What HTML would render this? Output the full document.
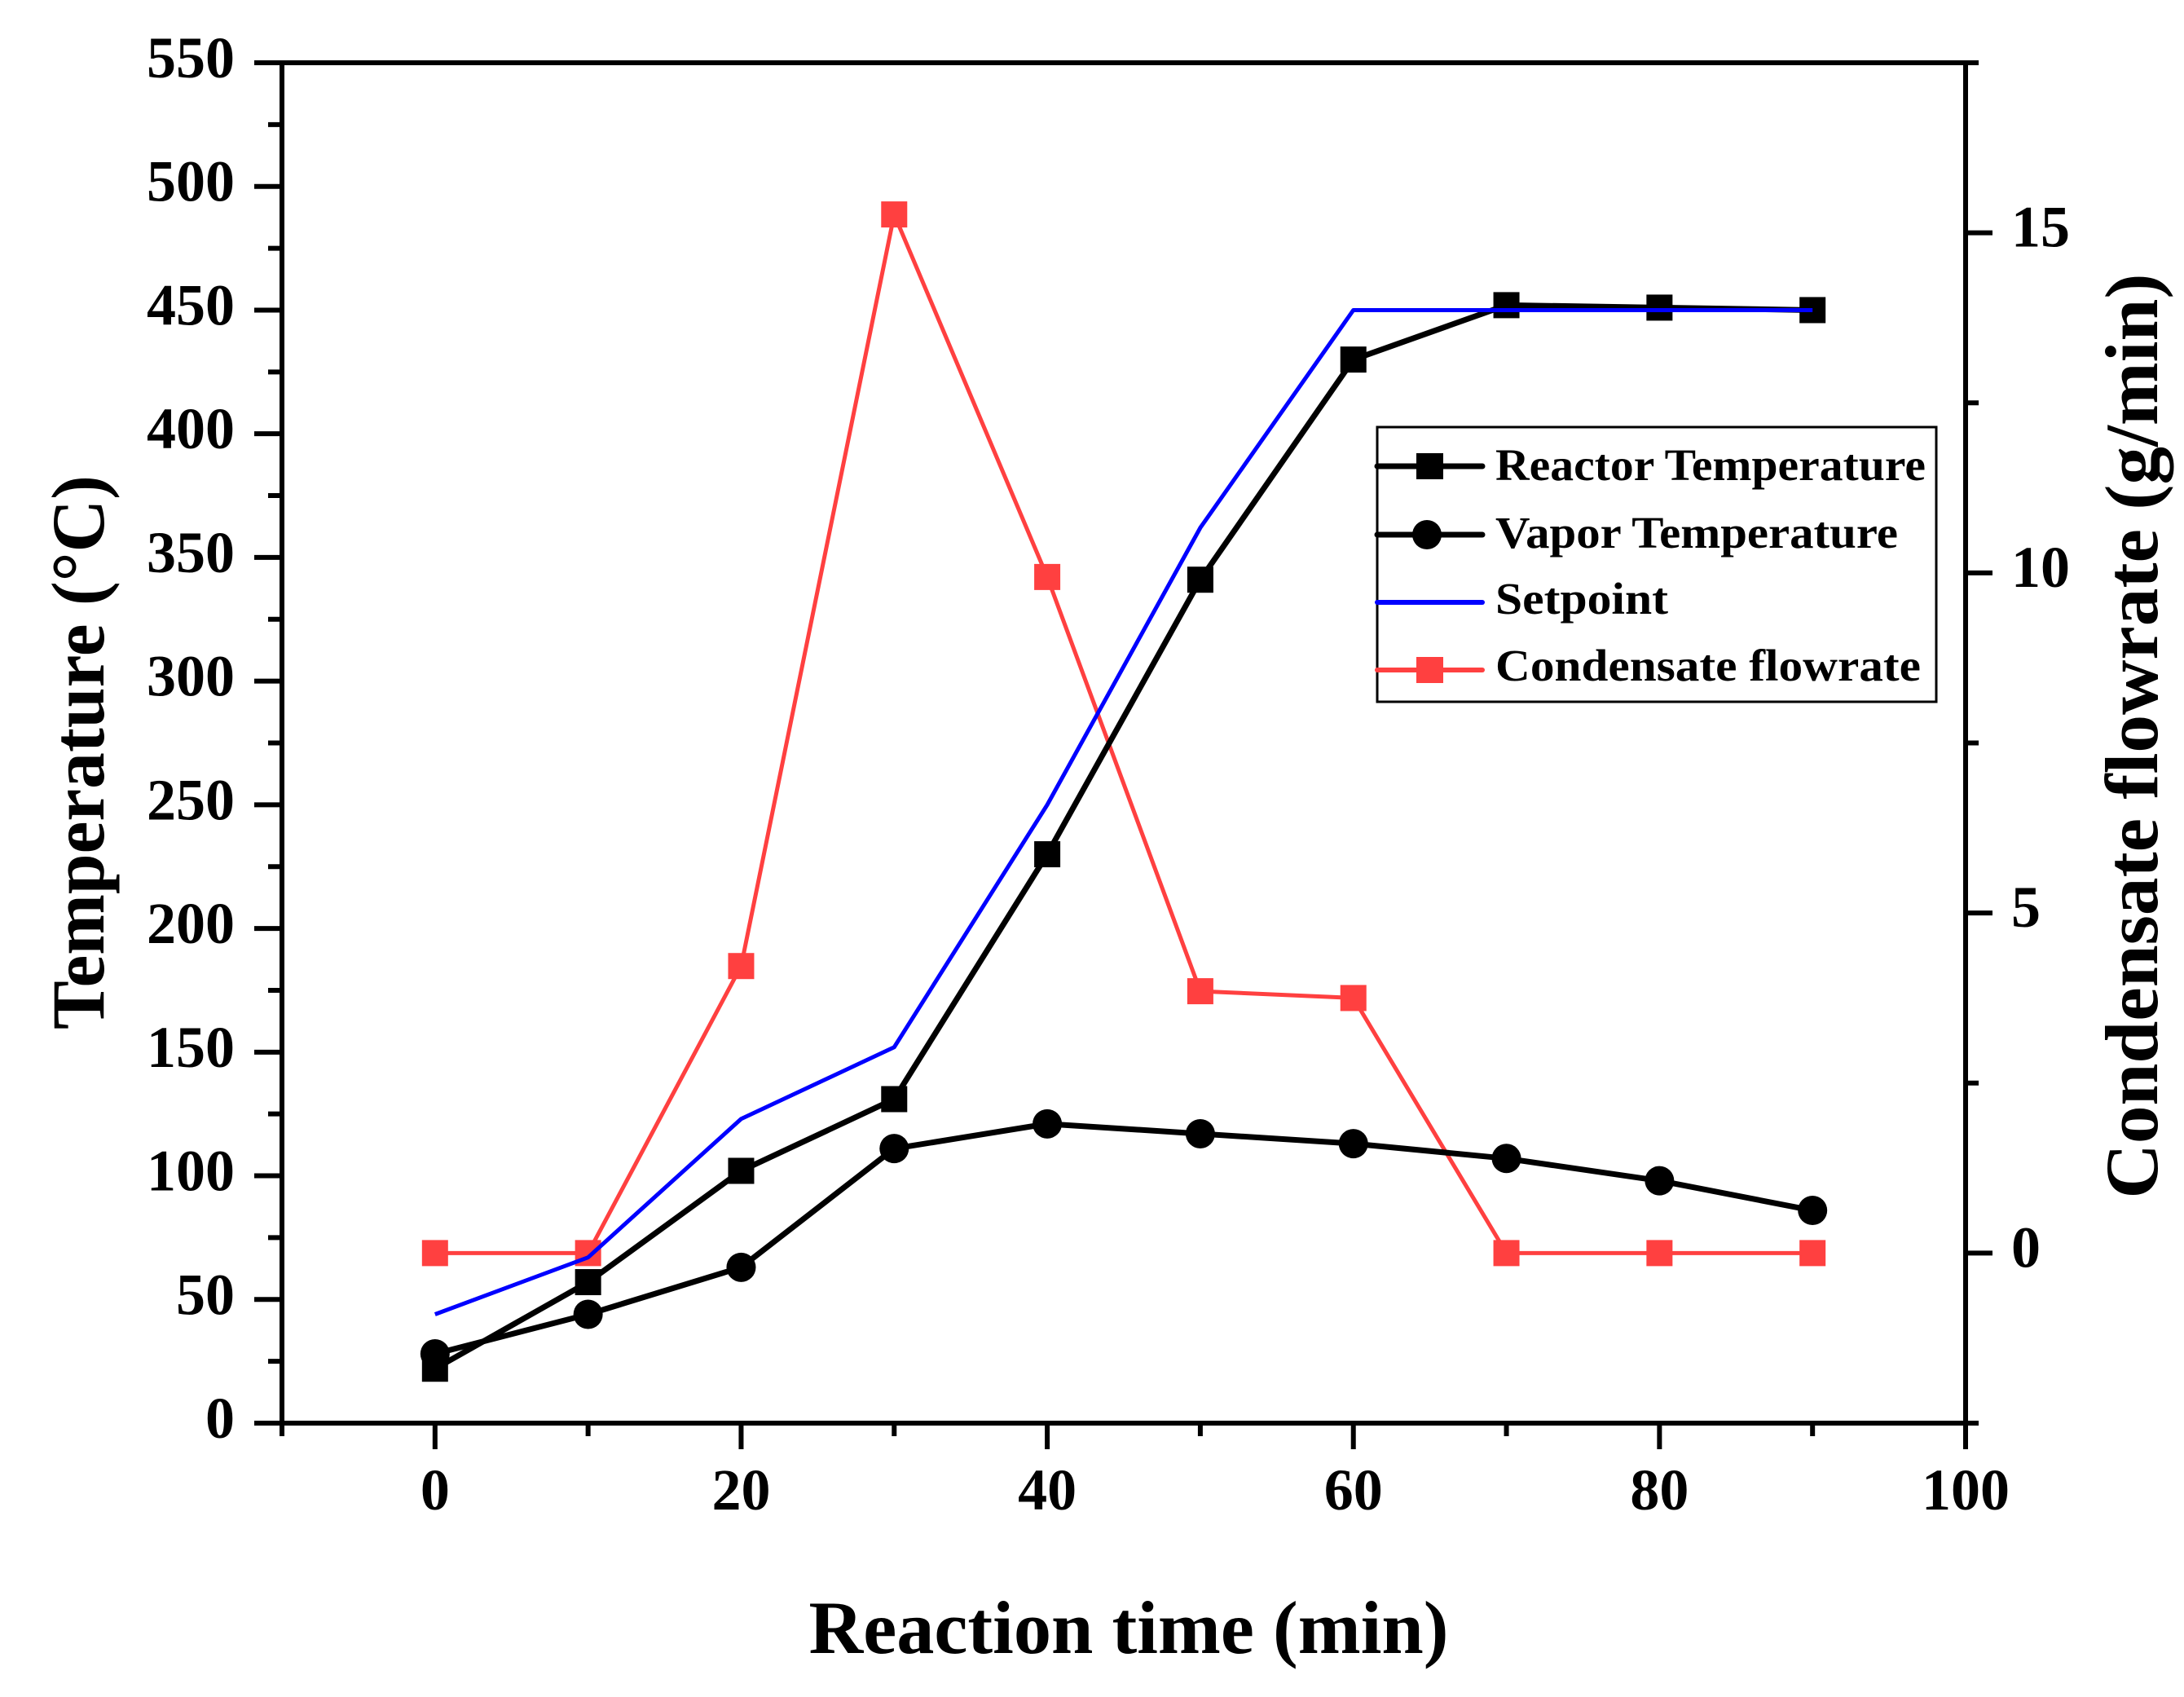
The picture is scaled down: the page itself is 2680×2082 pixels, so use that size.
<!DOCTYPE html>
<html><head><meta charset="utf-8"><style>html,body{margin:0;padding:0;background:#fff}svg{display:block}text{font-family:"Liberation Serif",serif;font-weight:bold;fill:#000}</style></head>
<body>
<svg id="chart" width="2680" height="2082" viewBox="0 0 2680 2082" xmlns="http://www.w3.org/2000/svg">
<g id="axes"></g>
<g id="series"></g>
<g id="legend"></g>
<text x="1385" y="2028" font-size="92" text-anchor="middle" textLength="785" lengthAdjust="spacingAndGlyphs">Reaction time (min)</text>
<text transform="translate(127,923) rotate(-90)" font-size="92" text-anchor="middle" textLength="680" lengthAdjust="spacingAndGlyphs">Temperature (°C)</text>
<text transform="translate(2647,903) rotate(-90)" font-size="92" text-anchor="middle" textLength="1135" lengthAdjust="spacingAndGlyphs">Condensate flowrate (g/min)</text>
</svg>
<script>
const times = [0,10,20,30,40,50,60,70,80,90];
const reactorTemp = [22,57,102,131,230,341,430,452,451,450];
const vaporTemp = [28,44,63,111,121,117,113,107,98,86];
const setpoint = [44,67,123,152,250,362,450,450,450,450];
const condensate = [0,0,4.22,15.27,9.94,3.85,3.75,0,0,0];
const xTicks = [0,20,40,60,80,100];
const yLeftTicks = [0,50,100,150,200,250,300,350,400,450,500,550];
const yRightTicks = [0,5,10,15];

const NS = "http://www.w3.org/2000/svg";
const L = 346, R = 2412, T = 77, B = 1746;
const xs = v => L + (v + 10) / 110 * (R - L);
const yl = v => B - v / 550 * (B - T);
const yr = v => B - (v + 2.5) / 20 * (B - T);
function mk(tag, attrs, parent) {
  const e = document.createElementNS(NS, tag);
  for (const k in attrs) e.setAttribute(k, attrs[k]);
  parent.appendChild(e);
  return e;
}
const axes = document.getElementById('axes');
const series = document.getElementById('series');
const legend = document.getElementById('legend');

let f = mk('path', {d:`M${L},${T}H${R}V${B}H${L}Z`, fill:'none', stroke:'#000', 'stroke-width':6}, axes);



for (let v = -10; v <= 100; v += 10) {
  const major = v % 20 === 0;
  const t = mk('line', {x1:xs(v), x2:xs(v), y1:B, y2:B + (major ? 32 : 16), stroke:'#000', 'stroke-width':6}, axes);
  
  
}
xTicks.forEach(v => {
  const t = mk('text', {x:xs(v), y:1852, 'font-size':72, 'text-anchor':'middle'}, axes);
  t.textContent = v;
  
  
});
for (let v = 0; v <= 550; v += 25) {
  const major = v % 50 === 0;
  const t = mk('line', {x1:L, x2:L - (major ? 34 : 17), y1:yl(v), y2:yl(v), stroke:'#000', 'stroke-width':6}, axes);
  
  
}
yLeftTicks.forEach(v => {
  const t = mk('text', {x:288, y:yl(v) + 18, 'font-size':72, 'text-anchor':'end'}, axes);
  t.textContent = v;
  
  
});
for (let v = -2.5; v <= 17.5; v += 2.5) {
  const major = Math.abs(v % 5) < 1e-9;
  const t = mk('line', {x1:R, x2:R + (major ? 33 : 16), y1:yr(v), y2:yr(v), stroke:'#000', 'stroke-width':6}, axes);
  
  
}
yRightTicks.forEach(v => {
  const t = mk('text', {x:2468, y:yr(v) + 17, 'font-size':72, 'text-anchor':'start'}, axes);
  t.textContent = v;
  
  
});

function line(vals, yf, color, w, name) {
  const d = vals.map((v, i) => (i ? 'L' : 'M') + xs(times[i]) + ',' + yf(v)).join('');
  const p = mk('path', {d:d, fill:'none', stroke:color, 'stroke-width':w, 'stroke-linejoin':'round'}, series);
  
  
}
function squares(vals, yf, color, name) {
  vals.forEach((v, i) => {
    const r = mk('rect', {x:xs(times[i]) - 16, y:yf(v) - 16, width:32, height:32, fill:color}, series);
    
    
  });
}
function circles(vals, yf, color, name) {
  vals.forEach((v, i) => {
    const c = mk('circle', {cx:xs(times[i]), cy:yf(v), r:18, fill:color}, series);
    
    
  });
}
line(condensate, yr, '#ff4040', 5, 'condensate-line');
squares(condensate, yr, '#ff4040', 'condensate-marker');
line(vaporTemp, yl, '#000', 7, 'vapor-temperature-line');
circles(vaporTemp, yl, '#000', 'vapor-temperature-marker');
line(reactorTemp, yl, '#000', 7, 'reactor-temperature-line');
squares(reactorTemp, yl, '#000', 'reactor-temperature-marker');
line(setpoint, yl, '#0000ff', 5, 'setpoint-line');

const lb = mk('rect', {x:1690, y:524, width:686, height:337, fill:'#fff', stroke:'#000', 'stroke-width':3}, legend);


const entries = [
  {label:'Reactor Temperature', color:'#000', marker:'square', y:572, ty:589, tl:528, w:7},
  {label:'Vapor Temperature', color:'#000', marker:'circle', y:656, ty:672, tl:494, w:7},
  {label:'Setpoint', color:'#0000ff', marker:'none', y:739, ty:753, tl:212, w:6},
  {label:'Condensate flowrate', color:'#ff4040', marker:'square', y:822, ty:835, tl:522, w:6}
];
entries.forEach(e => {
  const g = mk('g', {}, legend);
  
  
  mk('line', {x1:1690, x2:1819, y1:e.y, y2:e.y, stroke:e.color, 'stroke-width':e.w, 'stroke-linecap':'round'}, g);
  if (e.marker === 'square') mk('rect', {x:1738, y:e.y - 16, width:33, height:32, fill:e.color}, g);
  if (e.marker === 'circle') mk('circle', {cx:1751, cy:e.y, r:18, fill:e.color}, g);
  const t = mk('text', {x:1835, y:e.ty, 'font-size':55, textLength:e.tl, lengthAdjust:'spacingAndGlyphs'}, g);
  t.textContent = e.label;
});
</script>
</body></html>
